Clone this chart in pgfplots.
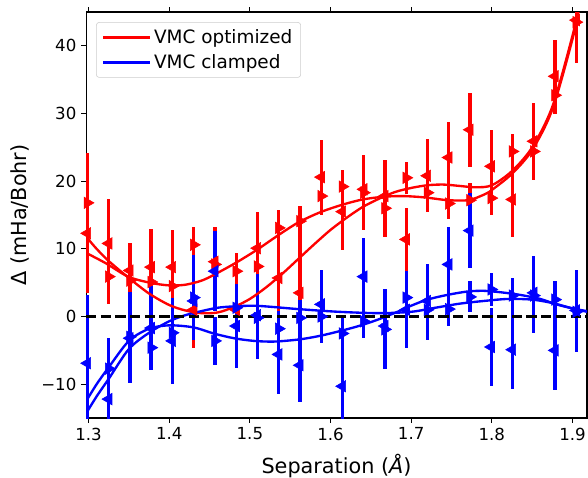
\documentclass[border=0pt]{standalone}
\usepackage{fontspec}
\setmainfont{DejaVu Sans}
\usepackage{pgfplots}
\pgfplotsset{compat=1.18}
\usepackage{pgfplotstable}

\pgfplotstableread{
x y e
1.2985 12.3 8.8
1.3249 10.8 6.5
1.3512 6.8 4.1
1.3776 7.3 5.7
1.4039 7.3 5.5
1.4303 1.0 5.6
1.4566 8.1 5.2
1.4830 1.0 3.0
1.5093 10.1 5.4
1.5357 5.7 4.9
1.5620 3.5 8.4
1.5884 20.6 5.5
1.6147 15.5 5.6
1.6411 18.8 4.8
1.6674 17.8 5.4
1.6938 11.4 4.7
1.7201 20.8 5.4
1.7465 23.5 5.3
1.7728 27.6 5.5
1.7992 22.2 5.4
1.8255 17.3 5.5
1.8519 25.9 5.6
1.8782 35.5 5.4
1.9046 43.8 6.0
}\redL

\pgfplotstableread{
x y e
1.2985 16.8 7.3
1.3249 5.9 4.1
1.3512 5.3 4.5
1.3776 5.1 4.0
1.4039 4.5 4.5
1.4303 10.6 2.7
1.4566 7.7 5.6
1.4830 6.7 2.7
1.5093 7.4 4.0
1.5357 13.1 2.7
1.5620 14.1 2.2
1.5884 17.8 2.8
1.6147 19.2 2.5
1.6411 18.3 5.5
1.6674 16.0 4.2
1.6938 20.5 2.4
1.7201 18.3 2.9
1.7465 16.7 2.3
1.7728 17.2 2.5
1.7992 17.5 2.5
1.8255 24.4 2.6
1.8519 24.4 4.2
1.8782 32.7 2.7
1.9046 43.5 6.0
}\redR

\pgfplotstableread{
x y e
1.2985 -6.9 10.1
1.3249 -12.2 9.0
1.3512 -3.2 6.6
1.3776 -1.7 6.2
1.4039 -3.6 6.4
1.4303 2.3 5.7
1.4566 6.7 5.9
1.4830 -1.4 6.2
1.5093 0.2 6.1
1.5357 -5.6 5.9
1.5620 -7.2 5.5
1.5884 1.8 5.1
1.6147 -10.3 6.0
1.6411 5.9 5.7
1.6674 -1.4 4.9
1.6938 1.0 5.6
1.7201 2.3 5.4
1.7465 7.7 5.6
1.7728 12.7 5.5
1.7992 -4.5 5.8
1.8255 -4.9 5.8
1.8519 3.5 5.4
1.8782 -5.0 5.8
1.9046 0.9 6.0
}\blueL

\pgfplotstableread{
x y e
1.3249 -7.7 4.6
1.3512 -3.0 6.6
1.3776 -4.6 3.3
1.4039 -2.4 4.9
1.4303 2.8 6.3
1.4566 -3.6 3.5
1.4830 1.3 3.4
1.5093 -0.2 6.1
1.5357 -1.8 2.6
1.5620 -0.2 2.7
1.5884 0.0 3.9
1.6147 -2.5 2.3
1.6411 -0.7 2.4
1.6674 -1.9 5.9
1.6938 2.8 3.9
1.7201 1.0 4.4
1.7465 1.1 2.5
1.7728 2.9 2.3
1.7992 4.0 2.4
1.8255 3.1 2.6
1.8519 3.1 5.6
1.8782 2.5 2.7
1.9046 0.7 6.0
}\blueR

\begin{document}
\begin{tikzpicture}
\begin{axis}[
  scale only axis,
  width=5.005in, height=4.057in,
  xmin=1.2969, xmax=1.918, ymin=-15, ymax=45,
  xtick={1.3,1.4,1.5,1.6,1.7,1.8,1.9},
  xticklabels={1.3,1.4,1.5,1.6,1.7,1.8,1.9},
  ytick={-10,0,10,20,30,40},
  yticklabels={−10,0,10,20,30,40},
  tick align=outside,
  major tick length=3.5pt,
  tick style={black, line width=0.8pt},
  axis line style={line width=0.8pt},
  ticklabel style={font=\fontsize{12}{14}\selectfont},
  xlabel={Separation (\textit{Å})},
  ylabel={Δ (mHa/Bohr)},
  label style={font=\fontsize{15}{18}\selectfont},
  xlabel style={yshift=-3pt},
  ylabel style={yshift=2pt},
  legend style={at={(0.02,0.975)}, anchor=north west, draw=black!20,
    rounded corners=2pt, font=\fontsize{13.3}{16}\selectfont,
    inner xsep=4pt, inner ysep=3pt, row sep=2.5pt},
  legend cell align=left,
  legend image code/.code={\draw[line width=1.7pt] (0pt,0pt) -- (28pt,0pt);
    \path (0pt,0pt) -- (34pt,0pt);},
]
% error bar data
\addplot[forget plot, only marks, red, mark=triangle*, mark size=4.8pt,
  mark options={rotate=90, fill=red, draw=red},
  error bars/.cd, y dir=both, y explicit, error mark=none,
  error bar style={line width=2.4pt, red}]
  table[x=x, y=y, y error=e] {\redL};
\addplot[forget plot, only marks, red, mark=triangle*, mark size=4.8pt,
  mark options={rotate=-90, fill=red, draw=red},
  error bars/.cd, y dir=both, y explicit, error mark=none,
  error bar style={line width=2.4pt, red}]
  table[x=x, y=y, y error=e] {\redR};
\addplot[forget plot, only marks, blue, mark=triangle*, mark size=4.8pt,
  mark options={rotate=90, fill=blue, draw=blue},
  error bars/.cd, y dir=both, y explicit, error mark=none,
  error bar style={line width=2.4pt, blue}]
  table[x=x, y=y, y error=e] {\blueL};
\addplot[forget plot, only marks, blue, mark=triangle*, mark size=4.8pt,
  mark options={rotate=-90, fill=blue, draw=blue},
  error bars/.cd, y dir=both, y explicit, error mark=none,
  error bar style={line width=2.4pt, blue}]
  table[x=x, y=y, y error=e] {\blueR};
% fitted curves
\addplot[red, line width=1.7pt, smooth, no markers] coordinates {
(1.297,11.8) (1.31,10.0) (1.325,8.2) (1.35,5.7) (1.375,3.4) (1.40,1.7)
(1.42,0.9) (1.44,0.5) (1.46,0.6) (1.48,1.4) (1.50,2.6) (1.52,4.3)
(1.54,6.3) (1.56,8.5) (1.58,10.7) (1.60,12.8) (1.62,14.6) (1.64,16.2)
(1.66,17.4) (1.68,18.4) (1.70,19.0) (1.72,19.4) (1.74,19.5) (1.76,19.3)
(1.78,19.1) (1.80,19.4) (1.825,21.5) (1.85,25.0) (1.875,31.0) (1.90,41.5)
(1.91,47.0) (1.918,52.0)};
\addlegendentry{VMC optimized}
\addplot[forget plot, red, line width=1.7pt, smooth, no markers] coordinates {
(1.297,9.4) (1.321,7.9) (1.349,5.9) (1.376,5.0) (1.40,4.6) (1.42,4.7)
(1.44,5.3) (1.456,6.2) (1.482,7.9) (1.508,9.8) (1.535,12.0) (1.56,13.9)
(1.587,15.4) (1.614,16.5) (1.64,17.3) (1.666,17.7) (1.69,17.8) (1.717,17.6)
(1.745,17.2) (1.771,17.2) (1.79,18.0) (1.80,18.7) (1.825,21.1)
(1.85,24.6) (1.875,30.6) (1.90,41.0) (1.91,46.5) (1.918,51.5)};
\addplot[blue, line width=1.7pt, smooth, no markers] coordinates {
(1.297,-14.3) (1.31,-11.8) (1.325,-9.2) (1.35,-4.8) (1.375,-2.4) (1.40,-0.7)
(1.42,0.2) (1.44,0.8) (1.46,1.3) (1.48,1.5) (1.505,1.6) (1.53,1.4)
(1.56,1.1) (1.61,0.7) (1.66,0.5) (1.70,0.7) (1.73,1.3) (1.76,1.9)
(1.79,2.3) (1.82,2.6) (1.85,2.5) (1.875,2.0) (1.90,1.2) (1.918,0.8)};
\addlegendentry{VMC clamped}
\addplot[forget plot, blue, line width=1.7pt, smooth, no markers] coordinates {
(1.297,-12.5) (1.31,-10.0) (1.325,-7.5) (1.35,-3.6) (1.375,-1.8) (1.40,-1.3)
(1.43,-1.6) (1.455,-2.5) (1.48,-3.2) (1.505,-3.6) (1.53,-3.7) (1.56,-3.4)
(1.585,-2.9) (1.61,-2.2) (1.635,-1.4) (1.66,-0.4) (1.685,0.8) (1.70,1.6)
(1.72,2.5) (1.745,3.2) (1.77,3.7) (1.79,3.8) (1.81,3.6) (1.835,3.2)
(1.86,2.6) (1.88,1.8) (1.90,1.2) (1.918,0.7)};
% zero line
\addplot[forget plot, black, line width=2pt, dash pattern=on 7.4pt off 3.2pt]
  coordinates {(1.2969,0) (1.918,0)};
\end{axis}
\pgfresetboundingbox
\path[use as bounding box] ([xshift=-0.86in,yshift=-0.59in]current axis.south west)
  rectangle ([xshift=0.01in,yshift=0.12in]current axis.north east);
\end{tikzpicture}
\end{document}
